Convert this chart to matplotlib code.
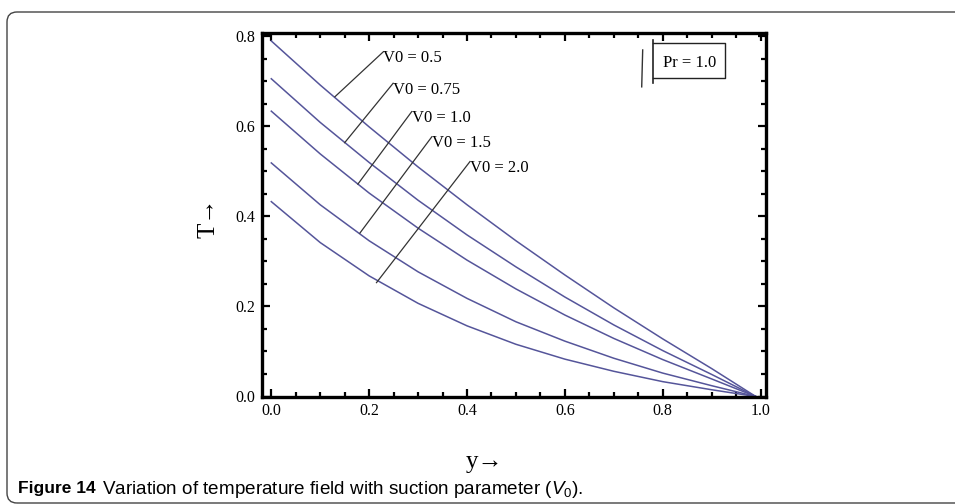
import numpy as np
import matplotlib
matplotlib.use("Agg")
import matplotlib.pyplot as plt
from matplotlib.patches import FancyBboxPatch
from matplotlib.ticker import MultipleLocator, FormatStrFormatter
from matplotlib.transforms import IdentityTransform
from matplotlib import font_manager

# values
y_pos = [0.0, 0.1, 0.2, 0.3, 0.4, 0.5, 0.6, 0.7, 0.8, 0.9, 0.99]
T_v05 = [0.790, 0.692, 0.599, 0.510, 0.426, 0.346, 0.270, 0.197, 0.128, 0.062, 0.0]
T_v075 = [0.706, 0.609, 0.520, 0.436, 0.359, 0.288, 0.221, 0.159, 0.102, 0.049, 0.0]
T_v10 = [0.634, 0.539, 0.452, 0.374, 0.303, 0.239, 0.181, 0.129, 0.082, 0.039, 0.0]
T_v15 = [0.519, 0.426, 0.346, 0.277, 0.218, 0.166, 0.123, 0.085, 0.052, 0.024, 0.0]
T_v20 = [0.433, 0.342, 0.268, 0.207, 0.157, 0.116, 0.083, 0.056, 0.033, 0.015, 0.0]

series = [T_v05, T_v075, T_v10, T_v15, T_v20]
labels = ["V0 = 0.5", "V0 = 0.75", "V0 = 1.0", "V0 = 1.5", "V0 = 2.0"]
# leader line: point on curve -> label corner
leaders = [((0.130, 0.666), (0.229, 0.766)),
           ((0.150, 0.564), (0.249, 0.696)),
           ((0.177, 0.472), (0.287, 0.633)),
           ((0.181, 0.363), (0.328, 0.577)),
           ((0.215, 0.253), (0.406, 0.522))]

available = {f.name for f in font_manager.fontManager.ttflist}
serif = ["Liberation Serif", "DejaVu Serif"]
cap_font = "Liberation Sans Narrow" if "Liberation Sans Narrow" in available else "Liberation Sans"

plt.rcParams["mathtext.fontset"] = "custom"
plt.rcParams["mathtext.rm"] = cap_font
plt.rcParams["mathtext.it"] = cap_font + ":italic"

fig = plt.figure(figsize=(9.55, 5.04), dpi=100)

# rounded frame around the figure panel
frame = FancyBboxPatch((7, 1), 1200, 491, boxstyle="round,pad=0,rounding_size=10",
                       transform=IdentityTransform(), fill=False, ec="#444444", lw=1.0)
fig.add_artist(frame)

ax = fig.add_axes([262 / 955, 1 - 396.5 / 504, 504 / 955, 363.2 / 504])

line_color = "#55559a"
for vals in series:
    ax.plot(y_pos, vals, color=line_color, lw=1.1)

for (p0, p1), lab in zip(leaders, labels):
    ax.plot([p0[0], p1[0]], [p0[1], p1[1]], color="#333333", lw=0.9)
    ax.text(p1[0], p1[1] + 0.003, lab, ha="left", va="top", fontsize=12, family=serif)

# Pr box
box_x = [0.781, 0.928, 0.928, 0.781]
box_y = [0.785, 0.785, 0.707, 0.707]
ax.plot(box_x, box_y, color="#222222", lw=1.0)
ax.plot([0.781, 0.781], [0.792, 0.696], color="#222222", lw=1.2)
ax.plot([0.759, 0.757], [0.770, 0.688], color="#333333", lw=1.0)
ax.text(0.855, 0.742, "Pr = 1.0", ha="center", va="center", fontsize=12, family=serif)

ax.set_xlim(-0.019, 1.011)
ax.set_ylim(0, 0.807)
ax.xaxis.set_major_locator(MultipleLocator(0.2))
ax.xaxis.set_minor_locator(MultipleLocator(0.05))
ax.yaxis.set_major_locator(MultipleLocator(0.2))
ax.yaxis.set_minor_locator(MultipleLocator(0.05))
ax.xaxis.set_major_formatter(FormatStrFormatter("%.1f"))
ax.yaxis.set_major_formatter(FormatStrFormatter("%.1f"))
ax.tick_params(which="both", direction="in", top=True, right=True, color="black", width=1.6)
ax.tick_params(which="major", length=6, pad=5)
ax.tick_params(which="minor", length=3.5)
for lab in ax.get_xticklabels() + ax.get_yticklabels():
    lab.set_family(serif)
    lab.set_fontsize(11.5)
for sp in ax.spines.values():
    sp.set_linewidth(2.4)

fig.text(484 / 955, 1 - 462 / 504, "y→", ha="center", va="center", fontsize=18, family=serif)
fig.text(208 / 955, 1 - 218 / 504, "T→", ha="center", va="center", fontsize=18,
         family=serif, rotation=90)

fig.text(18 / 955, 1 - 489 / 504, "Figure 14", ha="left", va="center", fontsize=12.5,
         weight="bold", family=[cap_font, "DejaVu Sans"])
fig.text(102 / 955, 1 - 489 / 504,
         r"Variation of temperature field with suction parameter ($V_0$).",
         ha="left", va="center", fontsize=13.6, family=[cap_font, "DejaVu Sans"])

fig.savefig("out.png", dpi=100)
